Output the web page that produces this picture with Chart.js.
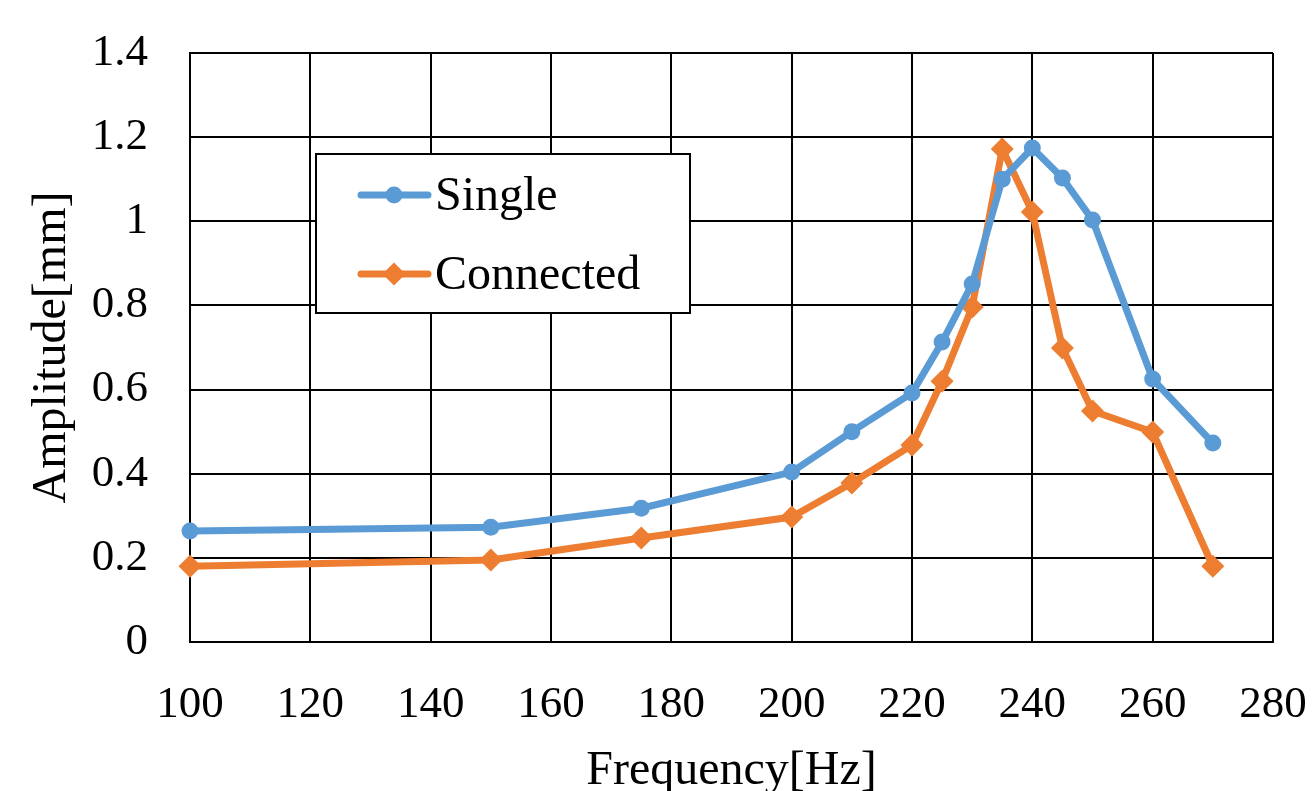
<!DOCTYPE html>
<html lang="en">
<head>
    <meta charset="UTF-8">
    <title>Amplitude vs Frequency</title>
    <script src="https://cdn.jsdelivr.net/npm/chart.js"></script>
    <style>
        html, body { margin: 0; padding: 0; background: #fff; }
        #wrap { width: 1315px; height: 791px; }
    </style>
</head>
<body>
    <div id="wrap">
        <canvas id="ampChart" width="1315" height="791"></canvas>
    </div>

    <script>
        // --- Data ---
        const frequencies = [100, 150, 175, 200, 210, 220, 225, 230, 235, 240, 245, 250, 260, 270];
        const singleAmp    = [0.264, 0.273, 0.318, 0.404, 0.50, 0.592, 0.713, 0.851, 1.10, 1.174, 1.103, 1.003, 0.625, 0.473];
        const connectedAmp = [0.18, 0.195, 0.247, 0.297, 0.378, 0.468, 0.62, 0.796, 1.172, 1.022, 0.699, 0.549, 0.499, 0.18];
        const seriesNames = ['Single', 'Connected'];
        const xTitle = 'Frequency[Hz]';
        const yTitle = 'Amplitude[mm]';

        const BLUE = '#5B9BD5';
        const ORANGE = '#ED7D31';
        const SERIF = "'Liberation Serif', 'Times New Roman', serif";

        const toPoints = (ys) => frequencies.map((f, i) => ({ x: f, y: ys[i] }));

        // legend box drawn inside the plot, like the spreadsheet original
        const boxLegend = {
            id: 'boxLegend',
            afterDatasetsDraw(chart) {
                const ctx = chart.ctx;
                const box = { x: 316, y: 154, w: 374, h: 159 };
                ctx.save();
                ctx.fillStyle = '#fff';
                ctx.fillRect(box.x, box.y, box.w, box.h);
                ctx.strokeStyle = '#000';
                ctx.lineWidth = 2;
                ctx.strokeRect(box.x, box.y, box.w, box.h);

                const rows = [195, 274];
                chart.data.datasets.forEach((ds, i) => {
                    const y = rows[i];
                    ctx.strokeStyle = ds.borderColor;
                    ctx.lineWidth = ds.borderWidth;
                    ctx.lineCap = 'round';
                    ctx.beginPath();
                    ctx.moveTo(361, y);
                    ctx.lineTo(428, y);
                    ctx.stroke();
                    ctx.fillStyle = ds.borderColor;
                    Chart.helpers.drawPoint(ctx, {
                        pointStyle: ds.pointStyle,
                        radius: ds.pointRadius,
                        borderWidth: 0
                    }, 394, y);

                    ctx.fillStyle = '#000';
                    ctx.font = '48px ' + SERIF;
                    ctx.textAlign = 'left';
                    ctx.textBaseline = 'middle';
                    ctx.fillText(ds.label, 435, y + 2);
                });
                ctx.restore();
            }
        };

        const ctx = document.getElementById('ampChart').getContext('2d');
        const ampChart = new Chart(ctx, {
            type: 'line',
            data: {
                datasets: [
                    {
                        label: seriesNames[0], data: toPoints(singleAmp),
                        borderColor: BLUE, backgroundColor: BLUE,
                        borderWidth: 7, pointStyle: 'circle', pointRadius: 8.5,
                        pointBorderWidth: 0, pointBackgroundColor: BLUE, tension: 0,
                        clip: false
                    },
                    {
                        label: seriesNames[1], data: toPoints(connectedAmp),
                        borderColor: ORANGE, backgroundColor: ORANGE,
                        borderWidth: 7, pointStyle: 'rectRot', pointRadius: 11.5,
                        pointBorderWidth: 0, pointBackgroundColor: ORANGE, tension: 0,
                        clip: false
                    }
                ]
            },
            options: {
                responsive: false,
                animation: false,
                layout: { padding: { top: 53, right: 42, bottom: 0, left: 0 } },
                plugins: {
                    legend: { display: false },
                    tooltip: { enabled: false }
                },
                scales: {
                    x: {
                        type: 'linear', min: 100, max: 280,
                        ticks: { stepSize: 20, padding: 0, color: '#000', font: { family: SERIF, size: 45 } },
                        // invisible tick marks push the labels down without inflating layout padding
                        grid: { color: '#000', lineWidth: 2, drawTicks: true, tickLength: 36, tickColor: 'rgba(0,0,0,0)' },
                        border: { color: '#000', width: 2 },
                        title: { display: true, text: xTitle, color: '#000', font: { family: SERIF, size: 48, lineHeight: 0.8 }, padding: 0 },
                        afterFit(scale) { scale.height = 149; }
                    },
                    y: {
                        type: 'linear', min: 0, max: 1.4,
                        ticks: {
                            stepSize: 0.2, padding: 0, color: '#000', font: { family: SERIF, size: 45 },
                            callback: (v) => String(Number(v.toFixed(1)))
                        },
                        grid: { color: '#000', lineWidth: 2, drawTicks: true, tickLength: 42, tickColor: 'rgba(0,0,0,0)' },
                        border: { color: '#000', width: 2 },
                        title: { display: true, text: yTitle, color: '#000', font: { family: SERIF, size: 48, lineHeight: 1 }, padding: { top: 28, bottom: 0 } },
                        afterFit(scale) { scale.width = 190; }
                    }
                }
            },
            plugins: [boxLegend]
        });
    </script>
</body>
</html>
